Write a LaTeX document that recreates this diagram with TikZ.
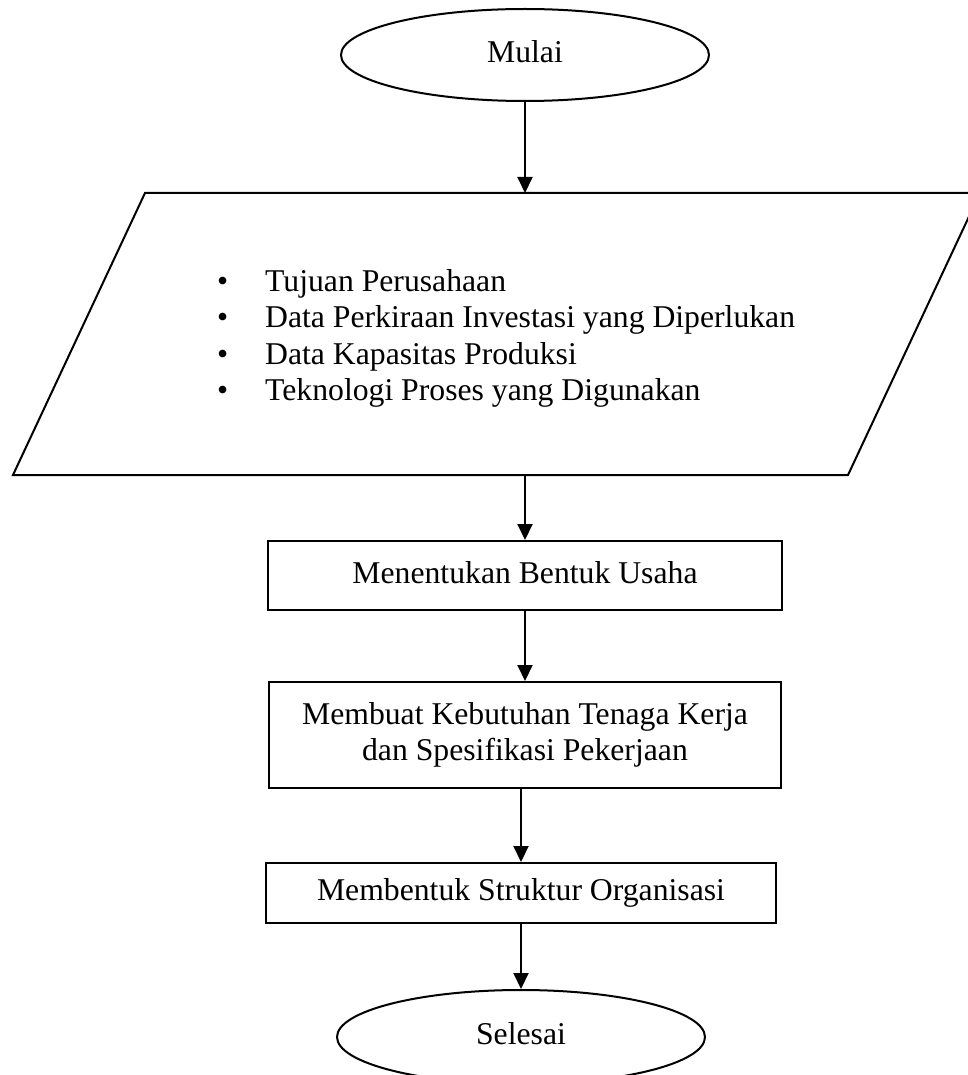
\documentclass[tikz,border=0pt]{standalone}
\usepackage{fontspec}
\setmainfont{Liberation Serif}
\usetikzlibrary{shapes.geometric,arrows.meta}
\begin{document}
\begin{tikzpicture}[x=1pt,y=-1pt,
  every node/.style={font=\fontsize{31.7}{36.6}\selectfont},
  edge line/.style={line width=2pt},
  term/.style={ellipse, draw, line width=2pt, minimum width=368pt,
    minimum height=92pt, inner sep=0pt, text height=23.8pt, text depth=7.9pt},
  proc/.style={rectangle, draw, line width=2pt, inner sep=0pt, align=center},
  oneline/.style={text height=23.8pt, text depth=7.9pt},
  flow/.style={line width=2pt, -{Triangle[length=16pt,width=15pt]}},
  listitem/.style={anchor=base west, inner sep=0pt}
]
\useasboundingbox (0,0) rectangle (967,1075);

% start terminal
\node[term] (mulai) at (525,55) {Mulai};

% input parallelogram
\draw[edge line] (145,193) -- (980,193) -- (848,475) -- (13,475) -- cycle;
\coordinate (intop) at (525,193);
\coordinate (inbot) at (525,475);
\node[listitem] (i1) at (217,291) {\makebox[48pt][l]{\textbullet}Tujuan Perusahaan};
\node[listitem] (i2) at (217,327.5) {\makebox[48pt][l]{\textbullet}Data Perkiraan Investasi yang Diperlukan};
\node[listitem] (i3) at (217,364) {\makebox[48pt][l]{\textbullet}Data Kapasitas Produksi};
\node[listitem] (i4) at (217,400.5) {\makebox[48pt][l]{\textbullet}Teknologi Proses yang Digunakan};

% process steps
\node[proc, oneline, minimum width=514pt, minimum height=69pt] (b1) at (525,575.5)
  {Menentukan Bentuk Usaha};
\node[proc, minimum width=512pt, minimum height=106pt] (b2) at (525,735)
  {Membuat Kebutuhan Tenaga Kerja\\dan Spesifikasi Pekerjaan};
\node[proc, oneline, minimum width=510pt, minimum height=60pt] (b3) at (521,893)
  {Membentuk Struktur Organisasi};

% end terminal
\node[term, minimum height=94pt] (selesai) at (521,1037) {Selesai};

% connectors
\draw[flow] (mulai) -- (intop);
\draw[flow] (inbot) -- (b1);
\draw[flow] (b1) -- (b2);
\draw[flow] (b2.south -| b3.center) -- (b3);
\draw[flow] (b3) -- (selesai);
\end{tikzpicture}
\end{document}
